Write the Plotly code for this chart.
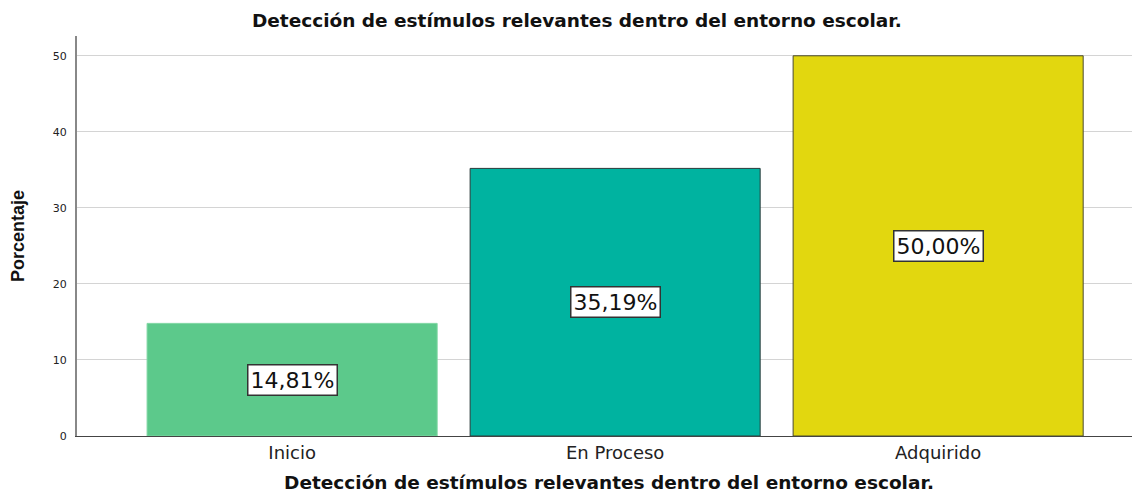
import plotly.graph_objects as go

categories = ["Inicio", "En Proceso", "Adquirido"]
values = [14.81, 35.19, 50.00]
labels = ["14,81%", "35,19%", "50,00%"]
colors = ["#5CC98B", "#00B3A0", "#E2D70F"]
line_colors = ["#7fd6a2", "#2a3a3a", "#4a4a30"]
title = "Detección de estímulos relevantes dentro del entorno escolar."

fig = go.Figure()
fig.add_trace(go.Bar(
    x=categories, y=values, width=0.898,
    marker=dict(color=colors, line=dict(color=line_colors, width=1)),
    hoverinfo="skip",
))

for c, v, t in zip(categories, values, labels):
    fig.add_annotation(x=c, y=v / 2, text=t, showarrow=False,
                       font=dict(family="DejaVu Sans", size=22, color="#111"),
                       bgcolor="white", bordercolor="#333", borderwidth=1.5, borderpad=2)

fig.update_layout(
    width=1140, height=493,
    margin=dict(l=69, r=7, t=28, b=65),
    paper_bgcolor="white", plot_bgcolor="white",
    showlegend=False,
    title=dict(text="<b>" + title + "</b>", x=0.499, xanchor="center", y=0.974, yanchor="middle",
               font=dict(family="DejaVu Sans", size=18.5, color="#111")),
    font=dict(family="DejaVu Sans"),
)
fig.update_xaxes(
    range=[-0.666, 2.628], showgrid=False, showline=True, linecolor="#444", linewidth=1,
    ticks="", tickfont=dict(size=18, color="#222"), automargin=False,
    title=dict(text="<b>" + title + "</b>", font=dict(size=18.5, color="#111"), standoff=14),
)
fig.update_yaxes(
    range=[0, 52.6], tickvals=[0, 10, 20, 30, 40, 50], showgrid=True, gridcolor="#d4d4d4",
    gridwidth=1, showline=True, linecolor="#888", linewidth=2, ticks="outside", ticklen=6,
    tickcolor="white", zeroline=False, tickfont=dict(size=11, color="#222"), automargin=False,
    title=dict(text="<b>Porcentaje</b>", font=dict(family="Liberation Sans", size=18, color="#111"), standoff=24),
)

fig.write_html("out.html")
